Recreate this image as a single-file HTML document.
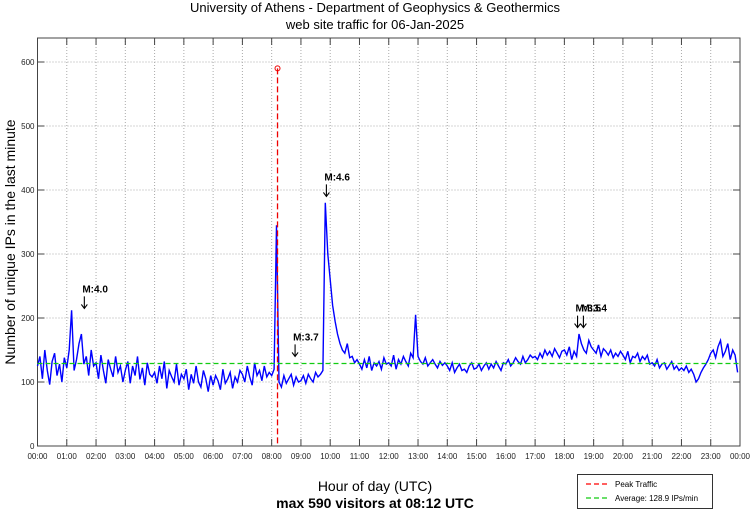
<!DOCTYPE html>
<html><head><meta charset="utf-8"><style>
body{margin:0;background:#fff;}
svg{display:block;font-family:"Liberation Sans",sans-serif;}
</style></head><body>
<svg id="c" width="750" height="511">
<text x="375" y="12" text-anchor="middle" font-size="13">University of Athens - Department of Geophysics &amp; Geothermics</text>
<text x="375" y="29" text-anchor="middle" font-size="13">web site traffic for 06-Jan-2025</text>
<text transform="translate(15,242) rotate(-90)" text-anchor="middle" font-size="14">Number of unique IPs in the last minute</text>
<text x="375" y="491" text-anchor="middle" font-size="14">Hour of day (UTC)</text>
<text x="375" y="508" text-anchor="middle" font-size="14" font-weight="bold">max 590 visitors at 08:12 UTC</text>
<g id="grid"></g>
<g id="plot"></g>
<g>
<rect x="577.5" y="474.5" width="135" height="34" fill="#fff" stroke="#333"/>
<line x1="586" y1="484" x2="610" y2="484" stroke="#f00" stroke-dasharray="5,3" stroke-width="1.3"/>
<text x="615" y="487" font-size="8">Peak Traffic</text>
<line x1="586" y1="498" x2="610" y2="498" stroke="#1c1" stroke-dasharray="5,3" stroke-width="1.3"/>
<text x="615" y="501" font-size="8">Average: 128.9 IPs/min</text>
</g>
</svg>
<script>
const hourLabels=["00:00","01:00","02:00","03:00","04:00","05:00","06:00","07:00","08:00","09:00","10:00","11:00","12:00","13:00","14:00","15:00","16:00","17:00","18:00","19:00","20:00","21:00","22:00","23:00","00:00"];
const yTicks=[0,100,200,300,400,500,600];
const traffic=[
125,140,105,150,118,96,132,145,110,128,100,138,
122,150,212,118,135,160,175,128,140,110,150,125,
130,105,142,118,98,135,120,108,140,115,125,100,
118,132,98,125,110,140,104,122,95,130,112,108,
115,98,125,105,132,90,118,108,100,128,95,112,
105,120,88,112,98,125,100,92,118,105,85,110,
95,110,102,88,120,98,105,115,90,108,100,118,
112,100,125,108,95,130,110,118,102,125,108,115,
110,120,345,100,92,110,98,105,112,95,108,100,
102,110,98,112,105,100,115,108,112,118,380,300,
260,220,195,175,160,150,145,160,138,140,130,135,
128,120,135,122,140,118,130,125,132,120,138,128,
130,125,142,120,135,128,140,132,125,145,138,205,
140,132,128,138,125,130,135,128,122,132,126,130,
125,118,130,115,122,128,118,120,115,125,130,120,
122,128,118,125,130,120,128,122,132,125,118,130,
128,135,125,130,138,132,128,140,130,135,142,138,
140,135,145,138,150,142,148,140,152,145,138,148,
150,142,155,135,148,140,175,160,150,145,165,155,
150,145,158,140,152,148,142,150,138,145,140,148,
142,135,148,130,140,138,145,132,140,135,142,128,
130,125,135,122,128,130,120,126,132,120,125,118,
122,118,125,115,120,112,100,105,115,122,128,135,
145,150,138,155,165,140,148,160,135,150,142,115];
const stepMinutes=5;
const peakHour=8.2, peakValue=590;
const average=128.9;
const markerLabels=["M:4.0","M:3.7","M:4.6","M:3.5","M:3.4"];
const markerHours=[1.6,8.8,9.87,18.45,18.65];
const markerValues=[240,165,415,210,210];

const L=37.5,R=740,T=38,B=446,NS="http://www.w3.org/2000/svg";
const X=h=>L+(R-L)*h/24, Y=v=>B-(B-62)*v/600;
function mk(p,t,a){const e=document.createElementNS(NS,t);for(const k in a)e.setAttribute(k,a[k]);p.appendChild(e);return e;}
const g=document.getElementById('grid'),p=document.getElementById('plot');
hourLabels.forEach((lab,i)=>{const x=X(i);
 if(i>0&&i<24){const l=mk(g,'line',{x1:x,y1:T,x2:x,y2:B,stroke:'#aaa','stroke-dasharray':'1,2'});}
 const a=mk(g,'line',{x1:x,y1:B,x2:x,y2:B-7,stroke:'#444'});
 const b=mk(g,'line',{x1:x,y1:T,x2:x,y2:T+7,stroke:'#444'});
 const t=mk(g,'text',{x:x,y:B+13,'text-anchor':'middle','font-size':8,fill:'#222'});t.textContent=lab;});
yTicks.forEach(v=>{const y=Y(v);
 if(v>0){const l=mk(g,'line',{x1:L,y1:y,x2:R,y2:y,stroke:'#aaa','stroke-dasharray':'1,2'});}
 const a=mk(g,'line',{x1:L,y1:y,x2:L+7,y2:y,stroke:'#444'});
 const b=mk(g,'line',{x1:R,y1:y,x2:R-7,y2:y,stroke:'#444'});
 const t=mk(g,'text',{x:L-3,y:y+3,'text-anchor':'end','font-size':8,fill:'#222'});t.textContent=v;});
const fr=mk(g,'rect',{x:L,y:T,width:R-L,height:B-T,fill:'none',stroke:'#444'});

const pts=traffic.map((v,i)=>X(i*stepMinutes/60).toFixed(1)+','+Y(v).toFixed(1)).join(' ');
const line=mk(p,'polyline',{points:pts,fill:'none',stroke:'#00f','stroke-width':1.4});

const av=mk(p,'line',{x1:L,y1:Y(average),x2:R,y2:Y(average),stroke:'#1c1','stroke-dasharray':'5,3','stroke-width':1.2});

const pk=mk(p,'line',{x1:X(peakHour),y1:Y(peakValue),x2:X(peakHour),y2:B,stroke:'#e00','stroke-dasharray':'6,3','stroke-width':1.3});

const pc=mk(p,'circle',{cx:X(peakHour),cy:Y(peakValue),r:2.5,fill:'none',stroke:'#e00'});

markerLabels.forEach((lab,i)=>{const x=X(markerHours[i]),y=Y(markerValues[i]);
 const t=mk(p,'text',{x:x-2,y:y,'font-size':10,'font-weight':'bold'});t.textContent=lab;
 const a=mk(p,'path',{d:`M${x},${y+4}V${y+16}M${x-3},${y+12}L${x},${y+16}L${x+3},${y+12}`,fill:'none',stroke:'#000','stroke-width':1.1});});
</script>
</body></html>
